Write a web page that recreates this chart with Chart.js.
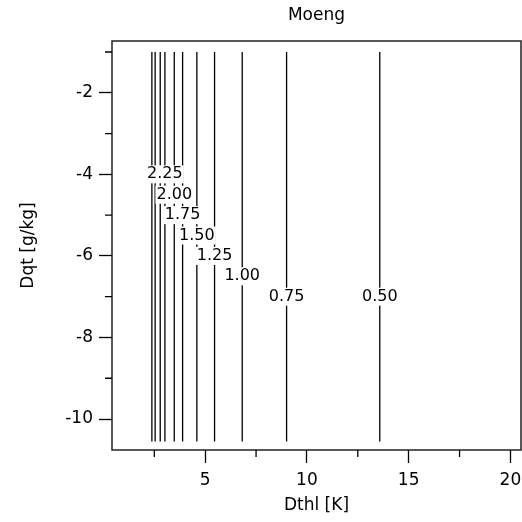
<!DOCTYPE html>
<html>
<head>
<meta charset="utf-8">
<script src="https://cdn.jsdelivr.net/npm/chart.js@4"></script>
<style>
  body { margin: 0; background: #fff; }
  #wrap { width: 522px; height: 522px; }
</style>
</head>
<body>
<div id="wrap"><canvas id="myChart"></canvas></div>
<script>
// contour levels and where each vertical contour sits on the Dthl axis
var levels = [0.50, 0.75, 1.00, 1.25, 1.50, 1.75, 2.00, 2.25, 2.50, 2.75, 3.00];
var levelX = [13.58, 9.00, 6.82, 5.46, 4.59, 3.89, 3.48, 3.02, 2.79, 2.54, 2.38];
// y where the label is placed (null = no label)
var labelY = [-7.0, -7.0, -6.5, -6.0, -5.5, -5.0, -4.5, -4.0, null, null, null];
var lineTop = -1.0;
var lineBottom = -10.55;

var xTicks = [5, 10, 15, 20];
var xMinor = [2.5, 7.5, 12.5, 17.5];
var yTicks = [-2, -4, -6, -8, -10];
var yMinor = [-1, -3, -5, -7, -9];

Chart.defaults.font.family = 'DejaVu Sans';
Chart.defaults.font.size = 17;
Chart.defaults.color = '#000';

var datasets = levels.map(function (lv, i) {
    return {
        label: lv.toFixed(2),
        data: [{x: levelX[i], y: lineTop}, {x: levelX[i], y: lineBottom}],
        borderColor: '#000',
        borderWidth: 1.3,
        pointRadius: 0,
        fill: false
    };
});

var frameAndLabels = {
    id: 'frameAndLabels',
    afterDatasetsDraw: function (chart) {
        var c = chart.ctx, a = chart.chartArea;
        var xs = chart.scales.x, ys = chart.scales.y;
        c.save();
        // contour labels with white box
        c.font = '16px DejaVu Sans';
        c.textAlign = 'center';
        c.textBaseline = 'middle';
        levels.forEach(function (lv, i) {
            if (labelY[i] === null) return;
            var px = xs.getPixelForValue(levelX[i]);
            var py = ys.getPixelForValue(labelY[i]);
            var t = lv.toFixed(2);
            var w = c.measureText(t).width;
            c.fillStyle = '#fff';
            c.fillRect(px - w / 2 - 1, py - 9, w + 2, 18);
            c.fillStyle = '#000';
            c.fillText(t, px, py);
        });
        // frame
        c.strokeStyle = '#222';
        c.lineWidth = 1.5;
        c.strokeRect(a.left, a.top, a.right - a.left, a.bottom - a.top);
        // minor ticks
        c.lineWidth = 1.3;
        c.strokeStyle = '#000';
        c.beginPath();
        xMinor.forEach(function (v) {
            var px = xs.getPixelForValue(v);
            c.moveTo(px, a.bottom);
            c.lineTo(px, a.bottom + 7);
        });
        yMinor.forEach(function (v) {
            var py = ys.getPixelForValue(v);
            c.moveTo(a.left, py);
            c.lineTo(a.left - 7, py);
        });
        c.stroke();
        c.restore();
    }
};

var ctx = document.getElementById('myChart').getContext('2d');
var myChart = new Chart(ctx, {
    type: 'line',
    data: { datasets: datasets },
    options: {
        responsive: true,
        maintainAspectRatio: false,
        animation: false,
        layout: { padding: { left: 0, right: 1, top: 0, bottom: 0 } },
        plugins: {
            legend: { display: false },
            tooltip: { enabled: false },
            title: {
                display: true,
                text: 'Moeng',
                fullSize: false,
                color: '#000',
                font: { size: 17, weight: 'normal' },
                padding: { top: 5, bottom: 15.6 }
            }
        },
        scales: {
            x: {
                type: 'linear',
                min: 0.42,
                max: 20.52,
                afterBuildTicks: function (s) { s.ticks = xTicks.map(function (v) { return {value: v}; }); },
                afterFit: function (s) { s.height = 72; s.paddingLeft = 0; s.paddingRight = 0; },
                grid: { drawOnChartArea: false, tickLength: 13, tickColor: '#000', tickWidth: 1.3 },
                border: { display: false },
                ticks: { padding: 7, maxRotation: 0 },
                title: { display: true, text: 'Dthl [K]', padding: { top: 0, bottom: 6 } }
            },
            y: {
                type: 'linear',
                min: -10.76,
                max: -0.73,
                afterBuildTicks: function (s) { s.ticks = yTicks.map(function (v) { return {value: v}; }); },
                afterFit: function (s) { s.width = 112; s.paddingTop = 0; s.paddingBottom = 0; },
                grid: { drawOnChartArea: false, tickLength: 13, tickColor: '#000', tickWidth: 1.3 },
                border: { display: false },
                ticks: { padding: 6 },
                title: { display: true, text: 'Dqt [g/kg]', padding: { top: 18, bottom: 0 } }
            }
        }
    },
    plugins: [frameAndLabels]
});
</script>
</body>
</html>
